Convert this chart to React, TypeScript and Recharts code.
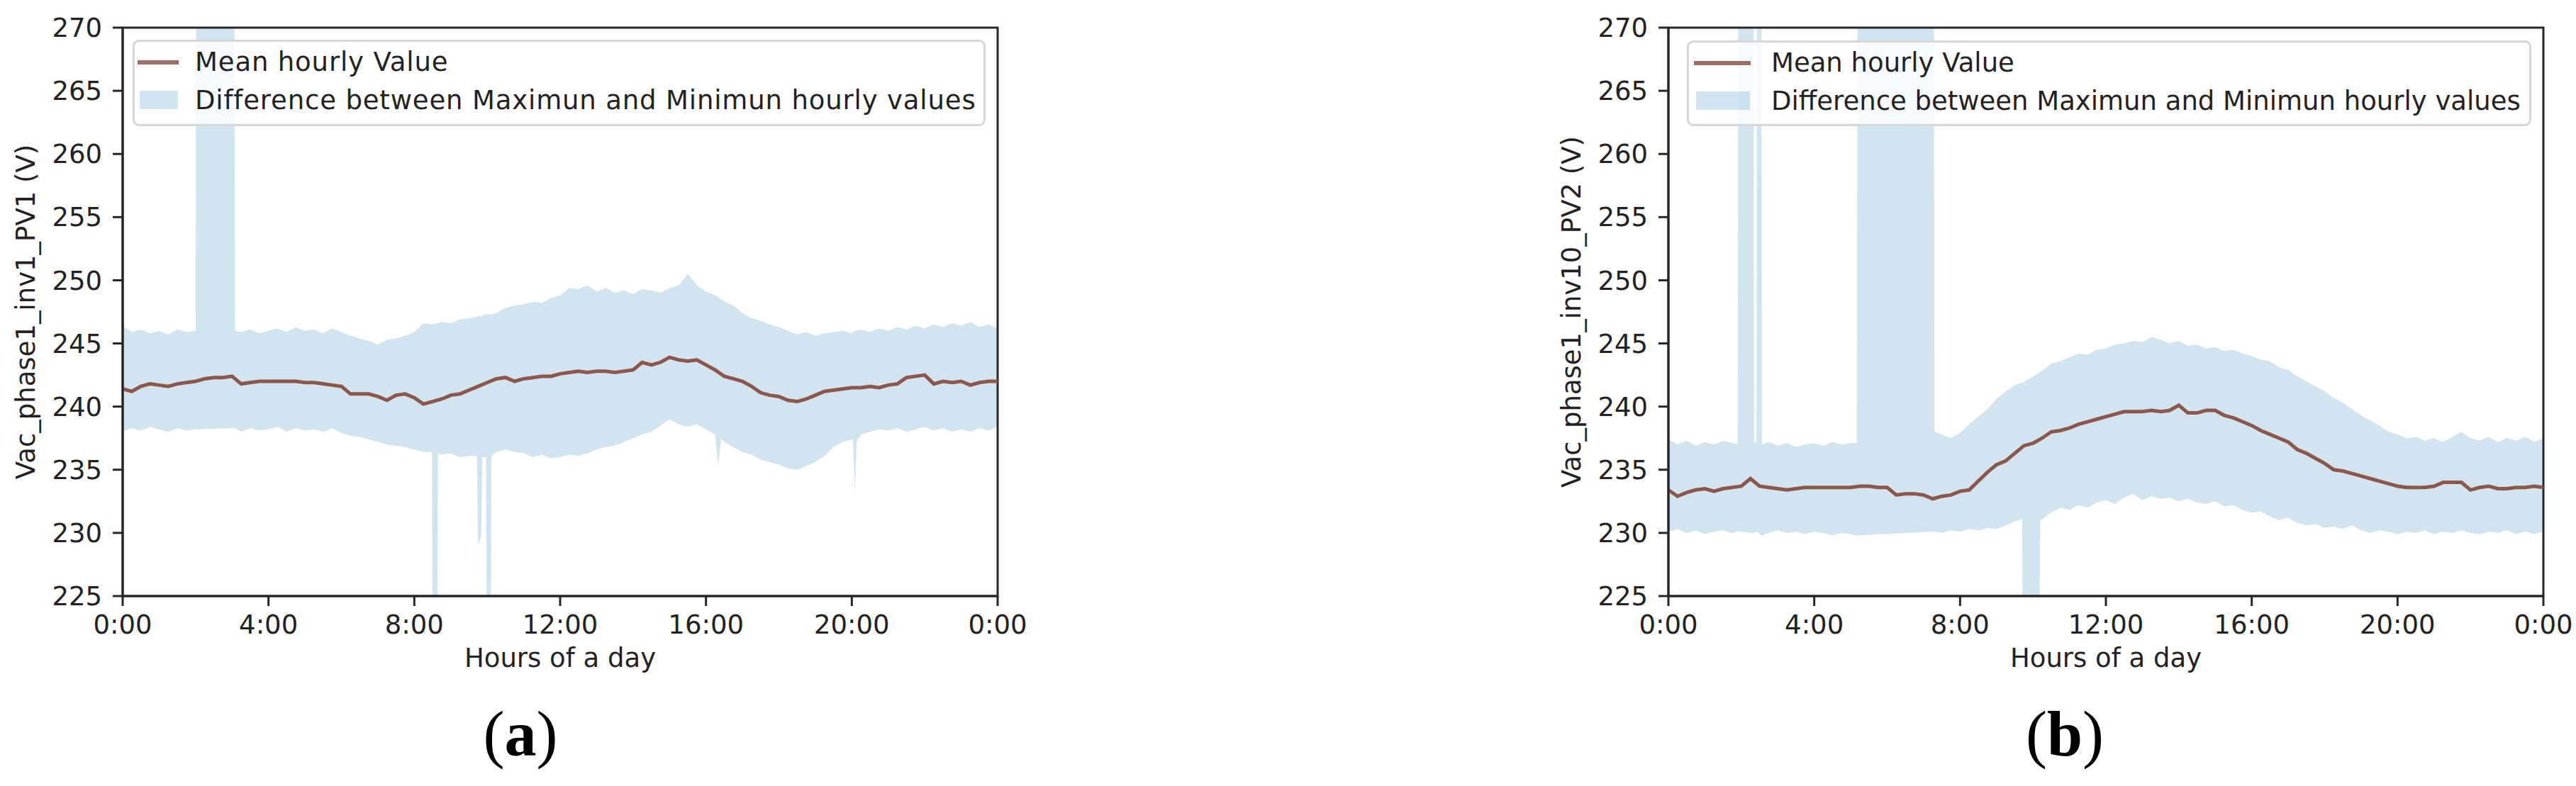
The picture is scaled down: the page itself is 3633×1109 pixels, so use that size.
import { ComposedChart, Area, Line, XAxis, YAxis, Legend, Label, ReferenceArea } from 'recharts';

// x positions are minutes after midnight
const HOUR_TICKS = [0, 240, 480, 720, 960, 1200, 1440];
const VOLT_TICKS = [225, 230, 235, 240, 245, 250, 255, 260, 265, 270];

const SERIES_NAMES = ['Mean hourly Value', 'Difference between Maximun and Minimun hourly values'];

// (a) inv1 PV1 — mean every 15 min
const MEAN_A = [
  241.4, 241.2, 241.6, 241.8, 241.7, 241.6, 241.8, 241.9, 242.0, 242.2,
  242.3, 242.3, 242.4, 241.8, 241.9, 242.0, 242.0, 242.0, 242.0, 242.0,
  241.9, 241.9, 241.8, 241.7, 241.6, 241.0, 241.0, 241.0, 240.8, 240.5,
  240.9, 241.0, 240.7, 240.2, 240.4, 240.6, 240.9, 241.0, 241.3, 241.6,
  241.9, 242.2, 242.3, 242.0, 242.2, 242.3, 242.4, 242.4, 242.6, 242.7,
  242.8, 242.7, 242.8, 242.8, 242.7, 242.8, 242.9, 243.5, 243.3, 243.5,
  243.9, 243.7, 243.6, 243.7, 243.3, 242.9, 242.4, 242.2, 242.0, 241.6,
  241.1, 240.9, 240.8, 240.5, 240.4, 240.6, 240.9, 241.2, 241.3, 241.4,
  241.5, 241.5, 241.6, 241.5, 241.7, 241.8, 242.3, 242.4, 242.5, 241.8,
  242.0, 241.9, 242.0, 241.7, 241.9, 242.0, 242.0,
];

// (a) min/max band
const BAND_T_A = [
  0, 15, 30, 45, 60, 75, 90, 105, 120, 121,
  184, 185, 195, 210, 225, 240, 255, 270, 285, 300,
  315, 330, 345, 360, 375, 390, 405, 420, 435, 450,
  465, 480, 495, 509, 510, 518, 519, 525, 540, 555,
  570, 583, 585, 590, 592, 598, 599, 606, 607, 615,
  630, 645, 660, 675, 690, 705, 720, 735, 750, 765,
  780, 795, 810, 825, 840, 855, 870, 885, 900, 915,
  930, 945, 960, 975, 980, 985, 990, 1005, 1020, 1035,
  1050, 1065, 1080, 1095, 1110, 1125, 1140, 1155, 1170, 1185,
  1200, 1202, 1205, 1208, 1215, 1230, 1245, 1260, 1275, 1290,
  1305, 1320, 1335, 1350, 1365, 1380, 1395, 1410, 1425, 1440,
];
const BAND_LO_A = [
  238.0, 238.3, 238.1, 238.4, 238.2, 238.0, 238.3, 238.1, 238.2, 238.2,
  238.3, 238.3, 238.0, 238.3, 238.1, 238.2, 238.4, 238.0, 238.3, 238.1,
  238.2, 238.0, 238.3, 237.9, 237.7, 237.6, 237.4, 237.2, 237.0, 236.9,
  236.8, 236.6, 236.4, 236.4, 224, 224, 236.3, 236.2, 236.3, 236.0,
  236.1, 236.1, 229.0, 229.8, 236.0, 236.0, 224, 224, 236.1, 236.4,
  236.6, 236.4, 236.3, 236.0, 236.2, 235.9, 236.0, 236.2, 236.1, 236.3,
  236.6, 236.8, 236.9, 237.2, 237.5, 237.8, 238.0, 238.5, 239.0, 238.6,
  238.4, 238.6, 238.2, 237.8, 235.3, 237.5, 237.2, 236.8, 236.4, 236.2,
  235.8, 235.6, 235.4, 235.1, 235.0, 235.3, 235.6, 236.1, 236.8, 237.2,
  237.4, 237.4, 233.2, 237.3, 237.8, 238.0, 238.2, 238.1, 238.3, 238.0,
  238.2, 238.4, 238.1, 238.3, 238.0, 238.2, 238.0, 238.3, 238.1, 238.4,
];
const BAND_HI_A = [
  246.4, 245.9, 246.1, 245.8, 246.0, 245.7, 246.1, 245.9, 246.0, 272,
  272, 246.0, 245.9, 246.1, 245.8, 246.0, 246.2, 245.9, 246.3, 246.0,
  246.1, 245.8, 246.2, 245.9, 245.6, 245.4, 245.2, 244.9, 245.3, 245.4,
  245.6, 245.9, 246.6, 246.5, 246.5, 246.6, 246.6, 246.7, 246.6, 246.9,
  247.0, 247.1, 247.2, 247.1, 247.2, 247.3, 247.3, 247.3, 247.3, 247.4,
  247.8, 248.0, 248.1, 248.3, 248.2, 248.6, 248.8, 249.4, 249.3, 249.6,
  249.1, 249.4, 249.0, 249.2, 248.9, 249.3, 249.2, 249.0, 249.4, 249.6,
  250.5, 249.6, 249.1, 248.8, 248.7, 248.5, 248.3, 248.0, 247.4, 247.0,
  246.8, 246.5, 246.3, 246.0, 245.7, 245.9, 245.6, 245.8, 245.9, 246.0,
  245.8, 245.9, 246.0, 246.0, 246.1, 245.9, 246.2, 246.0, 246.3, 246.1,
  246.4, 246.2, 246.5, 246.3, 246.6, 246.4, 246.7, 246.3, 246.5, 246.2,
];

// (b) inv10 PV2 — mean every 15 min
const MEAN_B = [
  233.4, 232.9, 233.2, 233.4, 233.5, 233.3, 233.5, 233.6, 233.7, 234.3,
  233.7, 233.6, 233.5, 233.4, 233.5, 233.6, 233.6, 233.6, 233.6, 233.6,
  233.6, 233.7, 233.7, 233.6, 233.6, 233.0, 233.1, 233.1, 233.0, 232.7,
  232.9, 233.0, 233.3, 233.4, 234.1, 234.8, 235.4, 235.7, 236.3, 236.9,
  237.1, 237.5, 238.0, 238.1, 238.3, 238.6, 238.8, 239.0, 239.2, 239.4,
  239.6, 239.6, 239.6, 239.7, 239.6, 239.7, 240.1, 239.5, 239.5, 239.7,
  239.7, 239.3, 239.1, 238.8, 238.5, 238.1, 237.8, 237.5, 237.2, 236.6,
  236.3, 235.9, 235.5, 235.0, 234.9, 234.7, 234.5, 234.3, 234.1, 233.9,
  233.7, 233.6, 233.6, 233.6, 233.7, 234.0, 234.0, 234.0, 233.4, 233.6,
  233.7, 233.5, 233.5, 233.6, 233.6, 233.7, 233.6,
];

const BAND_T_B = [
  0, 15, 30, 45, 60, 75, 90, 105, 114, 115,
  140, 141, 145, 146, 153, 154, 165, 180, 195, 210,
  225, 240, 255, 270, 285, 300, 310, 311, 437, 438,
  450, 465, 480, 495, 510, 525, 540, 555, 570, 582,
  583, 611, 612, 630, 645, 660, 675, 690, 705, 720,
  735, 750, 765, 780, 795, 810, 825, 840, 855, 870,
  885, 900, 915, 930, 945, 960, 975, 990, 1005, 1020,
  1035, 1050, 1065, 1080, 1095, 1110, 1125, 1140, 1155, 1170,
  1185, 1200, 1215, 1230, 1245, 1260, 1275, 1290, 1305, 1320,
  1335, 1350, 1365, 1380, 1395, 1410, 1425, 1440,
];
const BAND_LO_B = [
  230.1, 230.3, 230.0, 230.2, 229.9, 230.1, 230.2, 230.0, 230.1, 230.1,
  230.0, 230.0, 230.1, 230.1, 229.8, 229.8, 230.0, 230.2, 230.0, 230.1,
  229.9, 230.1, 230.0, 229.8, 230.0, 229.9, 229.8, 229.8, 230.1, 230.1,
  230.0, 230.2, 230.1, 230.3, 230.2, 230.4, 230.3, 230.6, 230.9, 231.1,
  224, 224, 231.0, 231.6, 232.0, 231.8, 232.2, 232.0, 232.4, 232.6,
  232.3, 232.8, 233.1, 232.6, 232.9, 232.7, 232.8, 232.5, 232.7, 232.4,
  232.3, 232.5, 232.1, 232.2, 231.8, 231.6, 231.7, 231.3, 231.0, 231.2,
  230.8, 230.6, 230.7, 230.4, 230.5, 230.3, 230.6, 230.2, 230.0, 230.2,
  230.1, 229.9, 230.1, 230.0, 230.2, 229.9, 230.1, 230.0, 230.2, 230.0,
  229.9, 230.1, 230.0, 230.2, 229.9, 230.1, 229.9, 230.1,
];
const BAND_HI_B = [
  237.4, 237.0, 237.3, 236.9, 237.2, 237.0, 237.3, 237.1, 237.0, 272,
  272, 237.1, 237.2, 272, 272, 237.0, 237.2, 236.9, 237.1, 236.8,
  237.0, 237.1, 236.9, 237.2, 237.0, 237.1, 237.1, 272, 272, 238.0,
  237.8, 237.5, 237.9, 238.6, 239.2, 239.8, 240.6, 241.2, 241.7, 241.9,
  241.9, 242.7, 242.7, 243.4, 243.6, 243.9, 244.2, 244.1, 244.5, 244.6,
  244.9, 245.0, 245.2, 245.1, 245.5, 245.3, 245.0, 245.2, 244.8, 244.9,
  244.6, 244.7, 244.4, 244.5, 244.2, 244.0, 243.7, 243.6, 243.1, 242.9,
  242.4, 242.0, 241.6, 241.2, 240.7, 240.3, 239.8, 239.3, 238.9, 238.5,
  238.0, 237.8, 237.5, 237.6, 237.3, 237.5, 237.2, 237.6, 238.0, 237.5,
  237.3, 237.6, 237.2, 237.5, 237.3, 237.6, 237.2, 237.5,
];

const FONT = 'DejaVu Sans';
const TEXT = '#222';
const AXIS = '#262626';
const MEAN_COLOR = '#8c564b';
const BAND_COLOR = '#1f77b4';

const fmtHour = (t: number) => `${Math.round(t / 60) % 24}:00`;

const buildBand = (t: number[], lo: number[], hi: number[]) =>
  t.map((x, i) => ({ t: x, range: [lo[i], hi[i]] }));
const buildMean = (vals: number[]) => vals.map((v, i) => ({ t: i * 15, mean: v }));

interface LegendGeom {
  left: number;
  top: number;
  width: number;
  height: number;
  handleLeft: number;
  handleWidth: number;
  textLeft: number;
  spacing: number;
}

function LegendBox({ g }: { g: LegendGeom }) {
  const b = 3;
  return (
    <div
      style={{
        position: 'relative',
        boxSizing: 'border-box',
        width: g.width,
        height: g.height,
        border: `${b}px solid #d6d6d6`,
        borderRadius: 9,
        background: 'rgba(255,255,255,0.8)',
        fontFamily: FONT,
        fontSize: 37,
        letterSpacing: g.spacing,
        color: TEXT,
        whiteSpace: 'nowrap',
      }}
    >
      <div style={{ position: 'absolute', left: g.handleLeft - b, top: 32 - b - 3, width: g.handleWidth, height: 6, background: MEAN_COLOR, opacity: 0.85 }} />
      <div style={{ position: 'absolute', left: g.textLeft - b, top: 32 - b - 22, height: 44, lineHeight: '44px' }}>{SERIES_NAMES[0]}</div>
      <div style={{ position: 'absolute', left: g.handleLeft - b + 3, top: 72 - b, width: g.handleWidth - 4, height: 26, background: BAND_COLOR, opacity: 0.2 }} />
      <div style={{ position: 'absolute', left: g.textLeft - b, top: 86 - b - 22, height: 44, lineHeight: '44px' }}>{SERIES_NAMES[1]}</div>
    </div>
  );
}

interface PanelProps {
  left: number;
  band: { t: number; range: number[] }[];
  mean: { t: number; mean: number }[];
  yLabel: string;
  legend: LegendGeom;
}

function Panel({ left, band, mean, yLabel, legend }: PanelProps) {
  const line = { stroke: AXIS, strokeWidth: 3 };
  const tick = { fill: TEXT, fontSize: 37, fontFamily: FONT };
  return (
    <div style={{ position: 'absolute', left, top: 0 }}>
      <ComposedChart width={1450} height={1000} margin={{ top: 39, right: 43, bottom: 59, left: 0 }}>
        <XAxis
          dataKey="t"
          type="number"
          domain={[0, 1440]}
          ticks={HOUR_TICKS}
          interval={0}
          tickFormatter={fmtHour}
          allowDataOverflow
          height={100}
          tickSize={14}
          tickMargin={13}
          axisLine={line}
          tickLine={line}
          tick={tick}
        >
          <Label value="Hours of a day" position="insideBottom" offset={0} fill={TEXT} fontSize={37} fontFamily={FONT} />
        </XAxis>
        <YAxis
          type="number"
          domain={[225, 270]}
          ticks={VOLT_TICKS}
          interval={0}
          allowDataOverflow
          width={173}
          tickSize={14}
          tickMargin={15}
          axisLine={line}
          tickLine={line}
          tick={tick}
        >
          <Label
            value={yLabel}
            angle={-90}
            position="insideLeft"
            offset={36}
            fill={TEXT}
            fontSize={37}
            fontFamily={FONT}
            style={{ textAnchor: 'middle' }}
          />
        </YAxis>
        <Area
          data={band}
          dataKey="range"
          type="linear"
          stroke="none"
          fill={BAND_COLOR}
          fillOpacity={0.2}
          isAnimationActive={false}
        />
        <Line
          data={mean}
          dataKey="mean"
          type="linear"
          stroke={MEAN_COLOR}
          strokeWidth={5}
          dot={false}
          isAnimationActive={false}
        />
        {/* axes frame (top and right spines) */}
        <ReferenceArea
          x1={0}
          x2={1440}
          y1={225}
          y2={270}
          fill="none"
          stroke={AXIS}
          strokeWidth={3}
          fillOpacity={0}
          ifOverflow="visible"
        />
        <Legend
          layout="vertical"
          align="center"
          verticalAlign="middle"
          content={() => <LegendBox g={legend} />}
          wrapperStyle={{ left: legend.left, top: legend.top, width: legend.width, height: legend.height }}
        />
      </ComposedChart>
    </div>
  );
}

export default function App() {
  return (
    <div style={{ position: 'absolute', left: 0, top: 0, width: 3633, height: 1109, background: '#fff', overflow: 'hidden' }}>
      <Panel
        left={0}
        band={buildBand(BAND_T_A, BAND_LO_A, BAND_HI_A)}
        mean={buildMean(MEAN_A)}
        yLabel="Vac_phase1_inv1_PV1 (V)"
        legend={{ left: 187, top: 56, width: 1203, height: 122, handleLeft: 7, handleWidth: 58, textLeft: 88, spacing: 0.85 }}
      />
      <Panel
        left={2180}
        band={buildBand(BAND_T_B, BAND_LO_B, BAND_HI_B)}
        mean={buildMean(MEAN_B)}
        yLabel="Vac_phase1_inv10_PV2 (V)"
        legend={{ left: 199, top: 57, width: 1191, height: 121, handleLeft: 10, handleWidth: 80, textLeft: 119, spacing: 0 }}
      />
      <svg width={3633} height={1109} style={{ position: 'absolute', left: 0, top: 0, pointerEvents: 'none' }}>
        <text x={734} y={1066} textAnchor="middle" fontFamily="Liberation Serif" fontSize={90} fill="#000">
          (<tspan fontWeight="bold">a</tspan>)
        </text>
        <text x={2912} y={1066} textAnchor="middle" fontFamily="Liberation Serif" fontSize={90} fill="#000">
          (<tspan fontWeight="bold">b</tspan>)
        </text>
      </svg>
    </div>
  );
}
